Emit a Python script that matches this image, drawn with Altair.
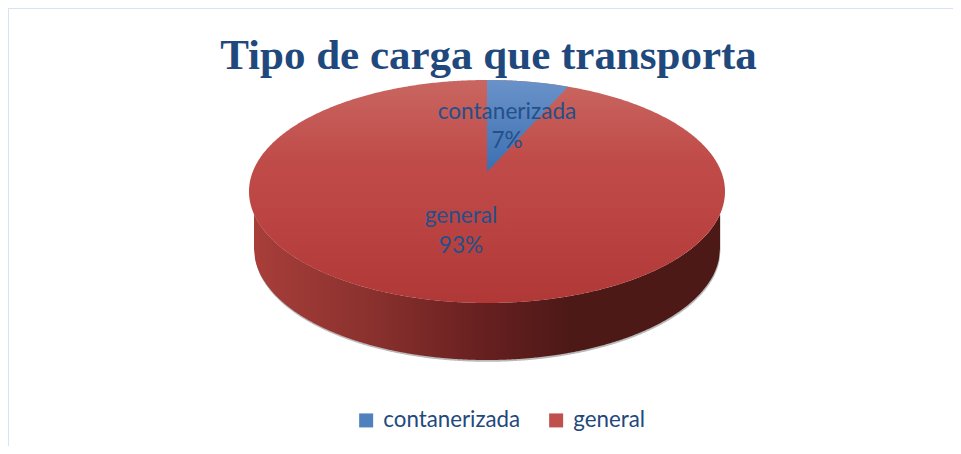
import numpy as np
import pandas as pd
import altair as alt

# Chart values
categories = ["contanerizada", "general"]
shares = [7, 93]
share_labels = ["7%", "93%"]
title_text = "Tipo de carga que transporta"

BLUE, RED = "#4f81bd", "#c0504d"
TEXT = "#1f497d"
FONT = "Lato"

# Pie geometry in page pixels (perspective drawing)
CX, CY, RX, RY = 487.0, 191.5, 238.0, 111.5      # top face
BX, BY, BRX, BRY = 487.0, 248.5, 233.0, 111.5    # bottom rim
AY = 172.0                                        # projected apex of the slices
FORESHORTEN = 0.79                                # back of the pie looks narrower

W, H = 945, 438
xs = alt.X("x:Q", axis=None, scale=alt.Scale(domain=[8, 8 + W], range=[0, W], nice=False, zero=False))
ys = alt.Y("y:Q", axis=None, scale=alt.Scale(domain=[8, 8 + H], range=[0, H], nice=False, zero=False))


def grad(stops, vertical=True):
    return alt.Gradient(
        gradient="linear",
        stops=[alt.GradientStop(offset=o, color=c) for o, c in stops],
        x1=0, y1=0, x2=0 if vertical else 1, y2=1 if vertical else 0,
    )


# Top face
t = np.linspace(0, np.pi, 361)
top_x = CX + RX * np.cos(t)
top_df = pd.DataFrame({"x": top_x, "y": CY - RY * np.sin(t), "y2": CY + RY * np.sin(t)})
top = alt.Chart(top_df).mark_area(
    color=grad([(0, "#c96661"), (0.35, "#c04c49"), (0.6, "#bc4543"), (1, "#b03836")])
).encode(x=xs, y=ys, y2="y2:Q")

# Side wall
side_x = np.linspace(BX - BRX, BX + BRX, 467)
side_top = CY + RY * np.sqrt(1 - ((side_x - CX) / RX) ** 2)
side_bot = BY + BRY * np.sqrt(np.clip(1 - ((side_x - BX) / BRX) ** 2, 0, 1))
side_df = pd.DataFrame({"x": side_x, "y": side_top, "y2": side_bot})
side = alt.Chart(side_df).mark_area(
    color=grad([(0, "#a83e3a"), (0.25, "#8a312e"), (0.5, "#661f1f"), (0.68, "#4c1917"), (1, "#4c1917")], vertical=False)
).encode(x=xs, y=ys, y2="y2:Q")

# Soft shadow under the wall
shadow_df = pd.DataFrame({"x": side_x + 0.5, "y": side_top, "y2": side_bot + 1.8})
shadow = alt.Chart(shadow_df).mark_area(color="#b9b9b9").encode(x=xs, y=ys, y2="y2:Q")

# Blue slice
end_param = 2 * np.pi * shares[0] / sum(shares) * FORESHORTEN
end_x = CX + RX * np.sin(end_param)
end_y = CY - RY * np.cos(end_param)
sl_x = np.linspace(CX, end_x, 90)
sl_top = CY - RY * np.sqrt(1 - ((sl_x - CX) / RX) ** 2)
sl_bot = AY + (end_y - AY) * (sl_x - CX) / (end_x - CX)
slice_df = pd.DataFrame({"x": sl_x, "y": sl_top, "y2": sl_bot})
blue = alt.Chart(slice_df).mark_area(
    color=grad([(0, "#6a92c9"), (1, "#3c6fb1")])
).encode(x=xs, y=ys, y2="y2:Q")

# Legend carrier: hidden beneath the pie
legend_df = pd.DataFrame({"cat": categories, "x": [CX, CX], "y": [CY + 20, CY + 20]})
carrier = alt.Chart(legend_df).mark_square(size=4, opacity=1).encode(
    x=xs, y=ys,
    color=alt.Color(
        "cat:N",
        scale=alt.Scale(domain=categories, range=[BLUE, RED]),
        legend=alt.Legend(
            title=None, orient="none", legendX=347, legendY=401, columns=2,
            symbolType="square", symbolSize=196, symbolStrokeWidth=0, symbolOpacity=1,
            labelFont=FONT, labelFontSize=22.3, labelColor=TEXT, labelOffset=6,
            columnPadding=24, labelLimit=300,
        ),
    ),
)

# Data labels
label_df = pd.DataFrame({
    "x": [507, 507, 461, 461],
    "y": [119, 148, 223, 253],
    "text": [categories[0], share_labels[0], categories[1], share_labels[1]],
})
labels = alt.Chart(label_df).mark_text(
    font=FONT, fontSize=22.6, color="#24508a", baseline="alphabetic", align="center"
).encode(x=xs, y=ys, text="text:N")

# Chart title, as in the source picture it sits over the pie's back edge
title_df = pd.DataFrame({"x": [488.5], "y": [69], "text": [title_text]})
title = alt.Chart(title_df).mark_text(
    font="Liberation Serif", fontSize=43, fontWeight="bold", color=TEXT,
    baseline="alphabetic", align="center",
).encode(x=xs, y=ys, text="text:N")

# Frame (top and left only: the rest runs off the picture)
frame_l = alt.Chart(pd.DataFrame({"a": [0]})).mark_rule(color="#d5e3f3", strokeWidth=2).encode(
    x=alt.value(0), y=alt.value(0), y2=alt.value(H))
frame_t = alt.Chart(pd.DataFrame({"a": [0]})).mark_rule(color="#d5e3f3", strokeWidth=2).encode(
    y=alt.value(0), x=alt.value(0), x2=alt.value(W))

chart = alt.layer(carrier, frame_l, frame_t, shadow, side, top, blue, labels, title).properties(
    width=W, height=H, padding=0, autosize=alt.AutoSizeParams(type="none"),
    background="white",
).configure_view(stroke=None)

chart.save("out.html", embed_options={"renderer": "svg", "actions": False})
